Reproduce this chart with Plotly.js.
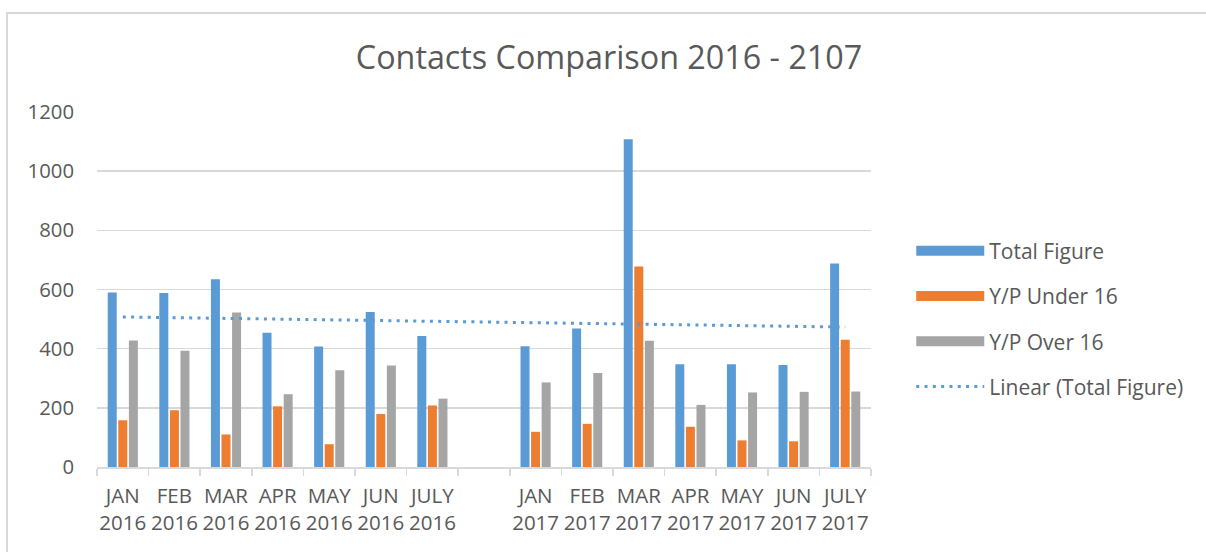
<!DOCTYPE html>
<html>
<head>
<meta charset="utf-8">
<script src="https://cdn.plot.ly/plotly-3.0.1.min.js"></script>
<style>
html,body{margin:0;padding:0;background:#fff;}
#chart{width:1206px;height:552px;}
</style>
</head>
<body>
<div id="chart"></div>
<script>
// ---- data ----
const categories = [
  "JAN<br>2016","FEB<br>2016","MAR<br>2016","APR<br>2016","MAY<br>2016","JUN<br>2016","JULY<br>2016",
  " ",
  "JAN<br>2017","FEB<br>2017","MAR<br>2017","APR<br>2017","MAY<br>2017","JUN<br>2017","JULY<br>2017"
];
const totalFigure = [590, 588, 635, 454, 407, 524, 443, null, 408, 468, 1108, 347, 347, 345, 688];
const under16     = [158, 192, 110, 205,  77, 179, 208, null, 119, 146,  678, 136,  90,  87, 430];
const over16      = [428, 393, 522, 246, 327, 343, 231, null, 286, 318,  427, 210, 252, 254, 255];
const yTicks = [0, 200, 400, 600, 800, 1000, 1200];
const seriesNames = ["Total Figure", "Y/P Under 16", "Y/P Over 16", "Linear (Total Figure)"];
const seriesColors = ["#5B9BD5", "#ED7D31", "#A5A5A5"];

// ---- linear trendline of Total Figure (blank category counted as 0, as the spreadsheet did) ----
function linearTrend(vals) {
  const n = vals.length;
  const xs = vals.map((_, i) => i + 1);
  const ys = vals.map(v => (v == null ? 0 : v));
  const mx = xs.reduce((a, b) => a + b, 0) / n;
  const my = ys.reduce((a, b) => a + b, 0) / n;
  let sxy = 0, sxx = 0;
  for (let i = 0; i < n; i++) { sxy += (xs[i] - mx) * (ys[i] - my); sxx += (xs[i] - mx) ** 2; }
  const b = sxy / sxx, a = my - b * mx;
  return xs.map(x => a + b * x);
}
const trend = linearTrend(totalFigure);

const FONT = "Open Sans, Liberation Sans, sans-serif";
const TXT = "#595959";
const barSeries = [totalFigure, under16, over16];

const traces = [];
barSeries.forEach((vals, i) => {
  traces.push({type: "bar", name: seriesNames[i], x: categories, y: vals,
               marker: {color: seriesColors[i]}, showlegend: false});
});
// legend-only swatches (wide rectangles like the spreadsheet legend)
barSeries.forEach((vals, i) => {
  traces.push({type: "scatter", mode: "lines", name: seriesNames[i], x: [null], y: [null],
               line: {color: seriesColors[i], width: 14}, legendgroup: "g" + i, hoverinfo: "skip"});
});
traces.push({type: "scatter", mode: "lines", name: seriesNames[3], x: categories, y: trend,
             line: {color: "#5B9BD5", width: 3, dash: "3px,5.3px"}, legendgroup: "g3"});

const layout = {
  width: 1206, height: 552,
  margin: {l: 97, r: 335, t: 112, b: 85},
  paper_bgcolor: "#ffffff", plot_bgcolor: "#ffffff",
  font: {family: FONT, color: TXT, size: 20},
  title: {text: "Contacts Comparison 2016 - 2107", font: {family: FONT, size: 32.3, color: TXT},
          x: 0.505, xref: "container", xanchor: "center", y: 0.895, yref: "container", yanchor: "middle"},
  barmode: "group", bargap: 0.385, bargroupgap: 0.15,
  xaxis: {type: "category", categoryorder: "array", categoryarray: categories,
          showgrid: false, showline: true, linecolor: "#d9d9d9", linewidth: 1.5,
          ticks: "outside", tickson: "boundaries", ticklen: 7, tickcolor: "#d9d9d9", tickwidth: 1.5,
          tickangle: 0, ticklabelstandoff: 10,
          tickfont: {family: FONT, size: 20.5, color: TXT}, fixedrange: true},
  yaxis: {range: [0, 1200], tickvals: yTicks, showgrid: true, gridcolor: "#d9d9d9", gridwidth: 1.5,
          zeroline: false, showline: false, ticks: "", ticklabelstandoff: 22,
          tickfont: {family: FONT, size: 20.3, color: TXT}, fixedrange: true},
  legend: {x: 1.052, xanchor: "left", y: 0.666, yanchor: "top", traceorder: "grouped",
           tracegroupgap: 15, itemwidth: 68, font: {family: FONT, size: 21, color: TXT},
           bgcolor: "rgba(0,0,0,0)"},
  shapes: [
    {type: "rect", xref: "paper", yref: "paper",
     x0: (7 - 97) / 774, x1: (1215 - 97) / 774, y0: (467 - 570) / 355, y1: (467 - 13) / 355,
     line: {color: "#d9d9d9", width: 2}, fillcolor: "rgba(0,0,0,0)", layer: "below"}
  ],
  showlegend: true
};

Plotly.newPlot("chart", traces, layout, {displayModeBar: false, staticPlot: true});
</script>
</body>
</html>
